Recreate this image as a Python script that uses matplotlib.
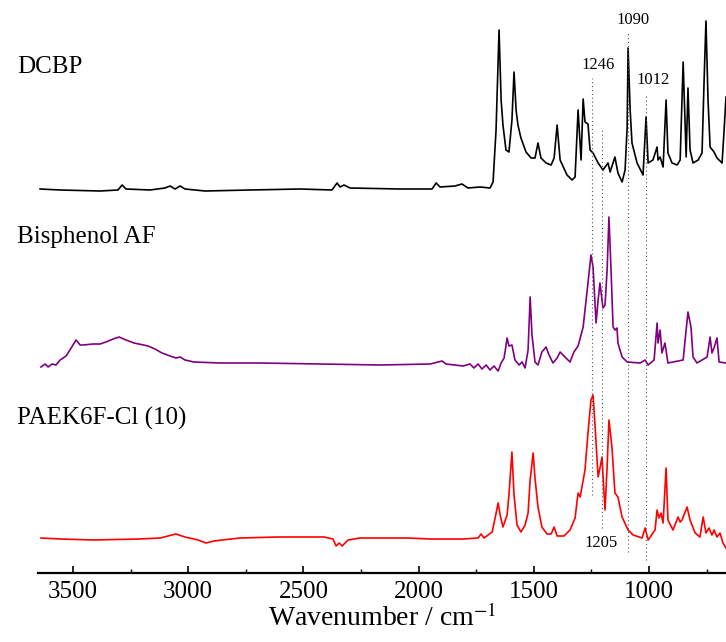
import matplotlib
matplotlib.use("Agg")
import matplotlib.pyplot as plt
from matplotlib.ticker import MultipleLocator

plt.rcParams["font.family"] = ["Liberation Serif", "DejaVu Serif"]
plt.rcParams["mathtext.fontset"] = "stix"

# FTIR spectra, wavenumber (cm-1) and relative absorbance (a.u.)
dcbp_wn = [3643, 3556, 3383, 3305, 3287, 3270, 3166, 3101, 3079, 3057, 3035, 3014,
           2927, 2732, 2515, 2376, 2354, 2341, 2324, 2298, 2081, 1942, 1924, 1907,
           1842, 1812, 1786, 1733, 1690, 1677, 1664, 1651, 1642, 1634, 1621, 1608,
           1595, 1586, 1577, 1569, 1556, 1534, 1512, 1495, 1482, 1469, 1447, 1425,
           1412, 1399, 1386, 1356, 1334, 1321, 1308, 1295, 1286, 1278, 1265, 1256,
           1243, 1221, 1200, 1178, 1169, 1148, 1135, 1117, 1104, 1095, 1091, 1082,
           1074, 1052, 1026, 1013, 1004, 983, 965, 961, 952, 939, 926, 918, 900,
           878, 865, 852, 839, 831, 822, 809, 787, 770, 761, 753, 744, 735, 718,
           705, 683, 675, 666]
dcbp_abs = [0, -1, -2, -1, 4, 0, -1, 1, 3, 0, 3, 0,
            -2, -1, 0, -1, 6, 2, 4, 1, 0, 0, 6, 2,
            3, 5, 1, 2, 1, 7, 59, 159, 89, 64, 39, 37,
            69, 117, 79, 64, 51, 37, 31, 31, 46, 31, 26, 24,
            31, 64, 29, 14, 9, 12, 79, 29, 90, 67, 65, 39,
            36, 26, 19, 26, 17, 32, 16, 7, 19, 62, 141, 79,
            46, 26, 14, 72, 26, 29, 42, 29, 32, 22, 89, 36, 26,
            24, 29, 127, 32, 101, 39, 26, 29, 36, 109, 168, 89, 42, 37,
            31, 26, 56, 92]

bpaf_wn = [3639, 3621, 3608, 3591, 3574, 3556, 3530, 3508, 3487, 3469, 3456, 3413,
           3383, 3357, 3326, 3300, 3270, 3235, 3174, 3144, 3114, 3079, 3053, 3035,
           3014, 2975, 2862, 2688, 2428, 2167, 1950, 1898, 1881, 1807, 1777, 1760,
           1742, 1725, 1707, 1690, 1673, 1655, 1642, 1629, 1616, 1608, 1595, 1582,
           1564, 1551, 1538, 1525, 1516, 1508, 1495, 1482, 1465, 1447, 1434, 1417,
           1399, 1386, 1365, 1343, 1326, 1308, 1286, 1265, 1252, 1243, 1230, 1221,
           1213, 1200, 1191, 1182, 1174, 1165, 1156, 1148, 1139, 1135, 1117, 1095,
           1039, 1017, 1004, 978, 965, 961, 952, 944, 931, 918, 852, 839, 831, 818,
           809, 792, 748, 735, 727, 718, 705, 696, 666]
bpaf_abs = [-4, -1, -4, -1, -2, 3, 7, 15, 23, 18, 18, 19,
            19, 21, 24, 26, 23, 20, 17, 14, 10, 7, 5, 6,
            3, 1, 0, 0, -1, -2, -1, 2, -1, -3, -1, -5,
            -1, -6, -2, -7, -3, -8, 0, 5, 25, 17, 18, 3,
            -2, 1, -5, 13, 66, 28, 1, -2, 11, 16, 8, 0,
            5, 11, 6, 1, 11, 17, 36, 80, 108, 96, 40, 63,
            80, 55, 58, 93, 146, 93, 36, 33, 35, 20, 6, 1,
            0, 3, -2, 3, 40, 20, 33, 10, 20, 0, 3, 33, 51, 36,
            6, 0, 6, 26, 10, 15, 25, 1, 0]

paek_wn = [3639, 3556, 3413, 3213, 3122, 3053, 3014, 2957, 2923, 2888, 2853, 2775,
           2610, 2411, 2372, 2358, 2345, 2332, 2306, 2254, 2050, 1950, 1807, 1742,
           1729, 1716, 1681, 1668, 1655, 1647, 1634, 1616, 1608, 1595, 1586, 1573,
           1556, 1538, 1525, 1516, 1503, 1495, 1482, 1465, 1443, 1425, 1412, 1399,
           1369, 1343, 1321, 1308, 1299, 1278, 1265, 1252, 1243, 1234, 1221, 1213,
           1204, 1200, 1191, 1182, 1174, 1161, 1148, 1135, 1117, 1091, 1069, 1030,
           1017, 1004, 983, 974, 965, 957, 948, 939, 926, 918, 896, 874, 865, 857,
           835, 822, 800, 779, 765, 753, 740, 727, 718, 705, 692, 679, 666]
paek_abs = [0, -1, -2, -1, 0, 4, 1, -2, -5, -3, -2, 0,
            1, 1, -1, -8, -5, -8, -2, 0, 0, -1, -1, 0,
            4, 0, 6, 20, 35, 24, 11, 23, 43, 86, 43, 13,
            6, 13, 25, 58, 85, 60, 31, 11, 4, 4, 11, 2,
            2, 8, 20, 45, 41, 68, 105, 138, 143, 111, 61, 70,
            81, 63, 28, 71, 118, 91, 45, 41, 21, 8, 3, 0,
            10, -2, 5, 8, 28, 20, 25, 15, 70, 18, 8, 21, 16, 18,
            31, 18, 5, 1, 21, 5, 10, 3, 8, 1, 5, -5, -10]

names = ["DCBP", "Bisphenol AF", "PAEK6F-Cl (10)"]
colors = ["black", "#800080", "red"]
offsets = [384, 210, 35]

marked_wn = [1246, 1205, 1090, 1012]

fig = plt.figure(figsize=(7.26, 6.42), dpi=100)
ax = fig.add_axes([38 / 726, 69 / 642, 688 / 726, 573 / 642])

for wn, ab, c, off in zip([dcbp_wn, bpaf_wn, paek_wn],
                          [dcbp_abs, bpaf_abs, paek_abs], colors, offsets):
    ax.plot(wn, [a + off for a in ab], color=c, lw=1.2)

# dotted guide lines with their labels
line_spans = [(78, 495), (45, 443), (21, 541), (13, 478)]
label_pos = [(1221, 508), (1208, 30), (1069, 553), (983, 493)]
for w, (y0, y1), (lx, ly) in zip(marked_wn, line_spans, label_pos):
    ax.plot([w, w], [y0, y1], color="#555555", lw=0.8, ls=(0, (1, 2.5)))
    ax.text(lx, ly, str(w), fontsize=12, ha="center", va="center")

ax.set_xlim(3652, 666)
ax.set_ylim(0, 573)
for s in ["top", "left", "right"]:
    ax.spines[s].set_visible(False)
ax.spines["bottom"].set_linewidth(1.6)
ax.set_yticks([])
ax.xaxis.set_major_locator(MultipleLocator(500))
ax.xaxis.set_minor_locator(MultipleLocator(250))
ax.tick_params(axis="x", which="major", direction="in", length=5, width=1.2,
               labelsize=18, pad=6)
ax.tick_params(axis="x", which="minor", direction="in", length=3, width=1.0)
ax.set_xlabel("Wavenumber / cm$^{-1}$", fontsize=20, labelpad=1)

label_y = [73, 243, 425]
for n, y in zip(names, label_y):
    fig.text(17 / 726, 1 - y / 642, n, fontsize=18, ha="left", va="baseline")

fig.savefig("out.png", dpi=100)
